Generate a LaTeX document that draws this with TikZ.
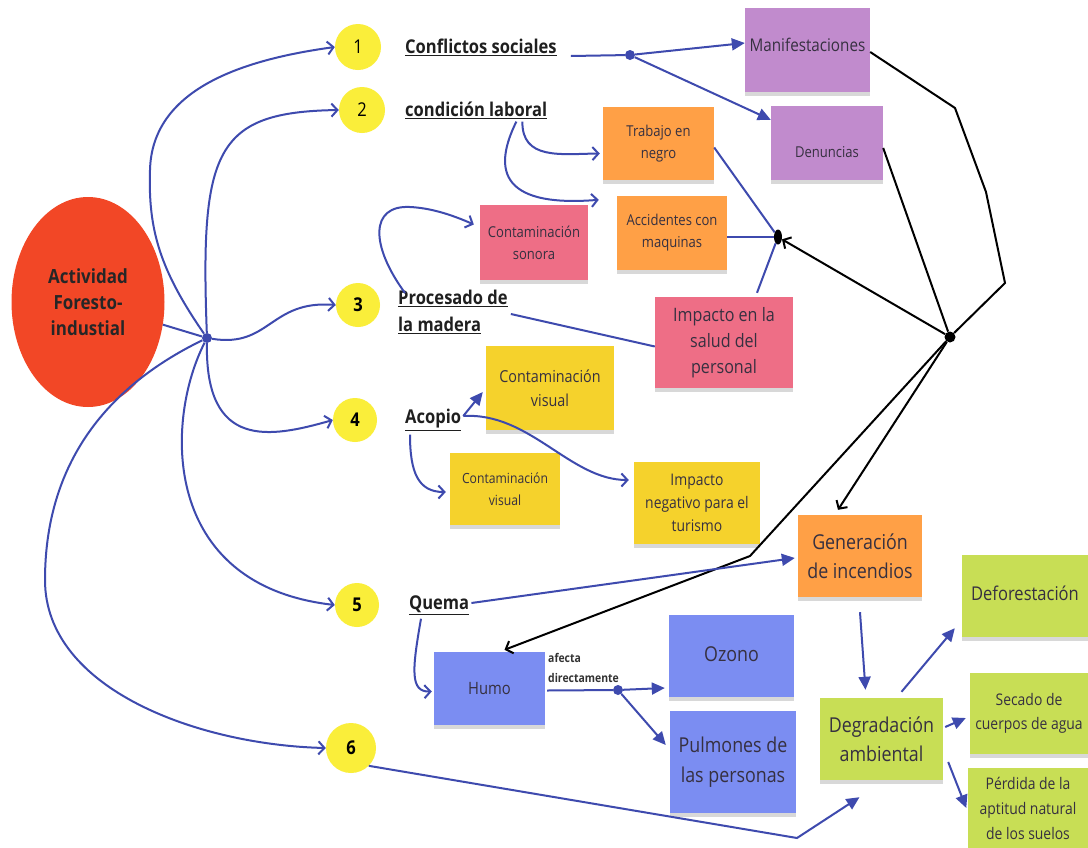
\documentclass[tikz,border=0pt]{standalone}
\usepackage{fontspec}
\setmainfont{Open Sans}[FakeStretch=0.87]
\usetikzlibrary{arrows.meta,shapes.geometric,shadows}
\definecolor{cyel}{HTML}{FAEE3A}
\definecolor{cred}{HTML}{F24726}
\definecolor{cpur}{HTML}{C18BCD}
\definecolor{cora}{HTML}{FFA046}
\definecolor{cpink}{HTML}{EE6E86}
\definecolor{csyel}{HTML}{F5D22C}
\definecolor{cgreen}{HTML}{C8DE55}
\definecolor{cblue}{HTML}{7B8DF2}
\definecolor{cline}{HTML}{3E4AAE}
\definecolor{ctext}{HTML}{363040}
\begin{document}
\begin{tikzpicture}[x=1pt,y=-1pt,
  sticky/.style={rectangle,inner sep=2pt,align=center,text=ctext,
    drop shadow={shadow xshift=0pt,shadow yshift=-4pt,opacity=0.3}},
  num/.style={circle,fill=cyel,minimum size=46pt,inner sep=0pt,font=\fontsize{19}{20}\selectfont},
  lbl/.style={anchor=west,inner sep=0pt,align=left,text=black!88,font=\bfseries\fontsize{19}{27}\selectfont},
  conn/.style={draw=cline,line width=2pt},
  blk/.style={draw=black,line width=2pt},
  openarr/.style={-{Straight Barb[length=6pt,width=13pt,line width=2pt]}},
  fillarr/.style={-{Triangle[length=13pt,width=12pt]}},
  dotnode/.style={circle,fill=cline,inner sep=0pt,minimum size=10pt}
]
\useasboundingbox (0,0) rectangle (1088,847);
\fill[white] (0,0) rectangle (1088,847);

% main ellipse
\node[ellipse,fill=cred,minimum width=153pt,minimum height=210pt,inner sep=0pt,align=center,
  text=black!85,font=\bfseries\fontsize{19.5}{26}\selectfont] (ell) at (88,302) {Actividad\\Foresto-\\industial};
\node[dotnode] (hub) at (207,338) {};

% numbered circles
\node[num] (c1) at (358,47) {1};
\node[num] (c2) at (362,110) {2};
\node[num,minimum size=44pt,font=\bfseries\fontsize{19}{20}\selectfont] (c3) at (358,305) {3};
\node[num,minimum size=44pt,font=\bfseries\fontsize{19}{20}\selectfont] (c4) at (355,420) {4};
\node[num,minimum size=44pt,font=\bfseries\fontsize{19}{20}\selectfont] (c5) at (357,605) {5};
\node[num,minimum size=50pt,font=\bfseries\fontsize{19}{20}\selectfont] (c6) at (351,748) {6};

% labels
\node[lbl] (conf) at (405,47) {\underline{Conflictos sociales}};
\node[lbl] (cond) at (405,110) {\underline{condición laboral}};
\node[lbl] (proc) at (398,312) {\underline{Procesado de}\\\underline{la madera}};
\node[lbl] (acop) at (405,420) {\underline{Acopio}};
\node[lbl] (quema) at (409,605) {\underline{Quema}};

% sticky notes
\node[sticky,fill=cpur,minimum width=125pt,minimum height=84pt,font=\fontsize{17.5}{22}\selectfont] (manif) at (807.5,50) {\raisebox{-1pt}[0pt][0pt]{Manifestaciones}};
\node[sticky,fill=cpur,minimum width=112pt,minimum height=74pt,font=\fontsize{15}{20}\selectfont] (denun) at (827,143) {\raisebox{-14pt}[0pt][0pt]{Denuncias}};
\node[sticky,fill=cora,minimum width=111pt,minimum height=73pt,font=\fontsize{15}{22}\selectfont] (trab) at (658.5,143.5) {Trabajo en\\negro};
\node[sticky,fill=cora,minimum width=110pt,minimum height=74pt,font=\fontsize{15}{22}\selectfont] (acc) at (672,233) {Accidentes con\\maquinas};
\node[sticky,fill=cpink,minimum width=108pt,minimum height=75pt,font=\fontsize{15}{22}\selectfont] (son) at (534,242.5) {Contaminación\\sonora};
\node[sticky,fill=cpink,minimum width=138pt,minimum height=91pt,font=\fontsize{18.5}{26}\selectfont] (imp) at (724,342.5) {Impacto en la\\salud del\\personal};
\node[sticky,fill=csyel,minimum width=128pt,minimum height=84pt,font=\fontsize{16.5}{24}\selectfont] (cvu) at (550,388) {Contaminación\\visual};
\node[sticky,fill=csyel,minimum width=110pt,minimum height=72pt,font=\fontsize{14}{22}\selectfont] (cvl) at (505,489) {Contaminación\\visual};
\node[sticky,fill=csyel,minimum width=126pt,minimum height=82pt,font=\fontsize{16}{23}\selectfont] (tur) at (697,503) {Impacto\\negativo para el\\turismo};
\node[sticky,fill=cora,minimum width=124pt,minimum height=82pt,font=\fontsize{20.5}{29}\selectfont] (gen) at (860,556) {Generación\\de incendios};
\node[sticky,fill=cgreen,minimum width=126pt,minimum height=82pt,font=\fontsize{19}{24}\selectfont] (defor) at (1025,596) {\raisebox{-4pt}[0pt][0pt]{Deforestación}};
\node[sticky,fill=cgreen,minimum width=118pt,minimum height=81pt,font=\fontsize{16}{24}\selectfont] (sec) at (1029,713) {Secado de\\cuerpos de agua};
\node[sticky,fill=cgreen,minimum width=121pt,minimum height=80pt,font=\fontsize{16}{25}\selectfont] (perd) at (1028,808) {Pérdida de la\\aptitud natural\\de los suelos};
\node[sticky,fill=cgreen,minimum width=123pt,minimum height=82pt,font=\fontsize{20.5}{29}\selectfont] (degr) at (881.5,739) {Degradación\\ambiental};
\node[sticky,fill=cblue,minimum width=111pt,minimum height=73pt,font=\fontsize{17}{22}\selectfont] (humo) at (489.5,688.5) {Humo};
\node[sticky,fill=cblue,minimum width=125pt,minimum height=82pt,font=\fontsize{20.5}{24}\selectfont] (ozono) at (731.5,656) {\raisebox{-5pt}[0pt][0pt]{Ozono}};
\node[sticky,fill=cblue,minimum width=126pt,minimum height=102pt,font=\fontsize{20.5}{30}\selectfont] (pulm) at (733,762) {Pulmones de\\las personas};

\node[anchor=west,inner sep=0pt,align=left,text=black!80,font=\bfseries\fontsize{12}{20}\selectfont] (afecta) at (548,668) {afecta\\directamente};

% dots
\node[dotnode] (dot1) at (630,55) {};
\node[dotnode] (dot2) at (618,690) {};
\node[ellipse,fill=black,inner sep=0pt,minimum width=8pt,minimum height=15pt] (bdot) at (778,237) {};
\node[circle,fill=black,inner sep=0pt,minimum size=11pt] (bhub) at (950,337) {};

% hub connectors
\draw[conn] (ell) -- (hub);
\draw[conn,openarr] (hub) .. controls (160,270) and (148,230) .. (150,170) .. controls (152,90) and (240,60) .. (c1.west);
\draw[conn,openarr] (hub) .. controls (200,150) and (215,112) .. (c2.west);
\draw[conn,openarr] (hub) .. controls (270,348) and (270,300) .. (c3.west);
\draw[conn,openarr] (hub) .. controls (205,450) and (270,438) .. (c4.west);
\draw[conn,openarr] (hub) .. controls (165,420) and (160,585) .. (c5.west);
\draw[conn,openarr] (hub) .. controls (100,390) and (45,470) .. (45,580) .. controls (45,690) and (200,745) .. (c6.west);

% conflictos
\draw[conn] ([xshift=14pt,yshift=-9pt]conf.east) -- (dot1);
\draw[conn,fillarr] (dot1) -- ([yshift=7pt]manif.west);
\draw[conn,fillarr] (dot1) -- ([yshift=-14pt]denun.north west);

% condicion laboral
\draw[conn,openarr] ([xshift=-25pt,yshift=-3pt]cond.south east) .. controls (522,160) and (560,154) .. ([xshift=-3pt,yshift=-10pt]trab.west);
\draw[conn,openarr] ([xshift=-31pt,yshift=-3pt]cond.south east) .. controls (495,165) and (495,208) .. ([xshift=-18pt,yshift=-4pt]acc.north west);

% procesado
\draw[conn,openarr] ([xshift=7pt,yshift=-3pt]proc.north west) .. controls (370,245) and (370,205) .. (410,207) .. controls (430,208) and (450,214) .. ([xshift=-6pt,yshift=18pt]son.west);
\draw[conn] ([xshift=3pt,yshift=-2pt]proc.east) -- ([yshift=-4pt]imp.west);

% to black dot
\draw[conn] ([yshift=-4pt]trab.east) -- (bdot);
\draw[conn] ([yshift=-4pt]acc.east) -- (bdot);
\draw[conn] ([xshift=33pt,yshift=4pt]imp.north) -- (bdot);

% black connectors
\draw[blk] ([yshift=-2pt]manif.east) -- (955,108) -- (986,192) -- (1005,283) -- (bhub);
\draw[blk] ([yshift=-5pt]denun.east) -- (bhub);
\draw[blk,openarr] (bhub) -- (bdot);
\draw[blk,openarr] (bhub) -- ([xshift=-22pt,yshift=5pt]gen.north);
\draw[blk,openarr] (bhub) -- (750,556) -- ([xshift=15pt,yshift=2pt]humo.north);

% acopio
\draw[conn,fillarr] ([xshift=2pt,yshift=4pt]acop.east) -- ([xshift=-3pt,yshift=-4pt]cvu.west);
\draw[conn,openarr] ([xshift=2pt,yshift=4pt]acop.east) .. controls (530,412) and (570,480) .. ([xshift=-5pt,yshift=23pt]tur.west);
\draw[conn,openarr] ([xshift=5pt,yshift=-4pt]acop.south west) .. controls (410,472) and (418,492) .. ([xshift=-4pt,yshift=-3pt]cvl.west);

% quema
\draw[conn,fillarr] ([xshift=2pt,yshift=2pt]quema.east) -- ([xshift=-3pt,yshift=-2pt]gen.west);
\draw[conn,openarr] ([xshift=12pt,yshift=-4pt]quema.south west) .. controls (412,670) and (410,692) .. ([xshift=-2pt,yshift=-3pt]humo.west);

% humo
\draw[conn] ([xshift=2pt,yshift=-2pt]humo.east) -- (dot2);
\draw[conn,fillarr] (dot2) -- ([xshift=-4pt,yshift=-32pt]ozono.west);
\draw[conn,fillarr] (dot2) -- ([xshift=-4pt,yshift=17pt]pulm.west);

% degradacion
\draw[conn,fillarr] ([yshift=-15pt]gen.south) -- ([xshift=-16pt,yshift=8pt]degr.north);
\draw[conn,fillarr] ([xshift=20pt,yshift=6pt]degr.north) -- ([xshift=-7pt,yshift=9pt]defor.south west);
\draw[conn,fillarr] ([xshift=2pt,yshift=12pt]degr.east) -- ([xshift=-4pt,yshift=-5pt]sec.west);
\draw[conn,fillarr] ([xshift=5pt,yshift=-23pt]degr.east) -- ([xshift=-1pt,yshift=0pt]perd.west);
\draw[conn,fillarr] (c6.south east) -- (797,838) -- ([xshift=-22pt,yshift=-17pt]degr.south);
\end{tikzpicture}
\end{document}
